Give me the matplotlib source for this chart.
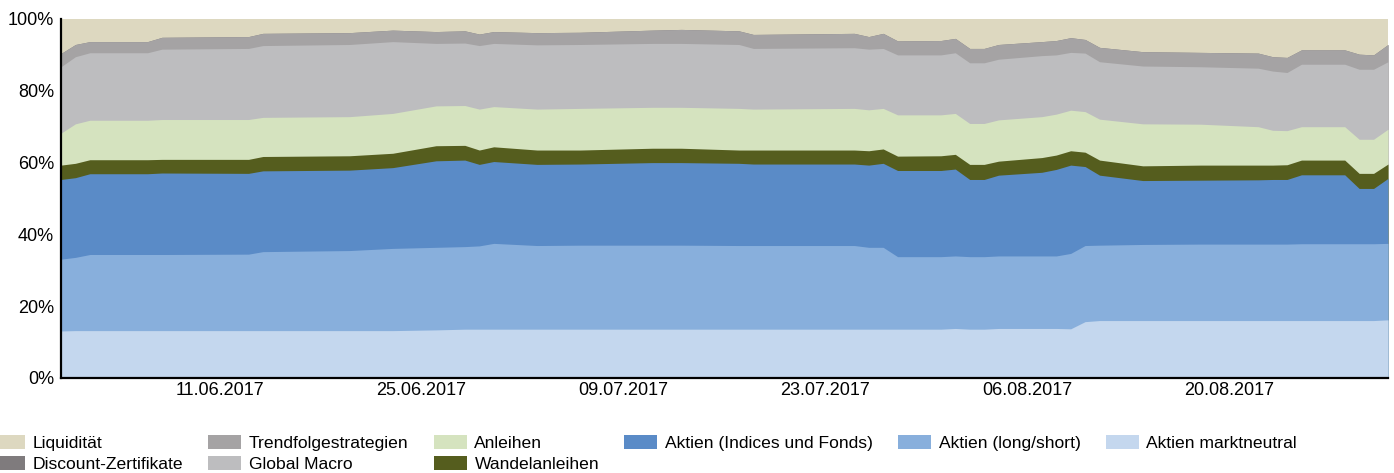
import numpy as np
import pandas as pd
import matplotlib
matplotlib.use('Agg')
import matplotlib.pyplot as plt
from matplotlib.patches import Patch

plt.rcParams['font.family'] = ['Liberation Sans', 'DejaVu Sans']

dates = ['2017-05-31', '2017-06-01', '2017-06-02', '2017-06-06', '2017-06-07', '2017-06-13',
         '2017-06-14', '2017-06-20', '2017-06-23', '2017-06-26', '2017-06-28', '2017-06-29',
         '2017-06-30', '2017-07-03', '2017-07-06', '2017-07-11', '2017-07-13', '2017-07-17',
         '2017-07-18', '2017-07-25', '2017-07-26', '2017-07-27', '2017-07-28', '2017-07-31',
         '2017-08-01', '2017-08-02', '2017-08-03', '2017-08-04', '2017-08-07', '2017-08-08',
         '2017-08-09', '2017-08-10', '2017-08-11', '2017-08-14', '2017-08-18', '2017-08-22',
         '2017-08-23', '2017-08-24', '2017-08-25', '2017-08-28', '2017-08-29', '2017-08-30',
         '2017-08-31']

# shares in % (bottom -> top of the stack)
aktien_marktneutral = [13.1, 13.2, 13.2, 13.2, 13.2, 13.2, 13.2, 13.2, 13.2, 13.4, 13.6, 13.6, 13.6, 13.6, 13.6,
                       13.6, 13.6, 13.6, 13.6, 13.6, 13.6, 13.6, 13.6, 13.6, 13.8, 13.6, 13.6, 13.8, 13.8, 13.8,
                       13.7, 15.7, 16.0, 16.0, 16.0, 16.0, 16.0, 16.0, 16.0, 16.0, 16.0, 16.0, 16.2]
aktien_long_short = [20.0, 20.4, 21.2, 21.2, 21.2, 21.3, 22.0, 22.3, 22.9, 23.0, 23.0, 23.2, 23.9, 23.3, 23.4,
                     23.4, 23.4, 23.3, 23.3, 23.3, 22.8, 22.8, 20.2, 20.2, 20.2, 20.2, 20.2, 20.2, 20.2, 20.2,
                     21.0, 21.2, 21.0, 21.2, 21.3, 21.3, 21.3, 21.3, 21.4, 21.4, 21.4, 21.4, 21.3]
aktien_indices = [22.2, 22.2, 22.5, 22.5, 22.7, 22.5, 22.5, 22.4, 22.5, 24.1, 24.1, 22.7, 22.8, 22.6, 22.6,
                  23.0, 23.0, 22.9, 22.7, 22.7, 22.9, 23.4, 24.0, 24.0, 24.2, 21.5, 21.5, 22.5, 23.3, 24.1,
                  24.6, 22.0, 19.5, 17.8, 17.8, 17.9, 18.0, 18.0, 19.2, 19.2, 15.4, 15.4, 18.1]
wandelanleihen = [4.0, 4.0, 3.9, 3.9, 3.8, 3.9, 4.0, 4.0, 4.0, 4.2, 4.1, 4.0, 4.1, 4.0, 3.9,
                  4.0, 4.0, 3.7, 3.9, 3.9, 4.0, 4.0, 4.0, 4.1, 4.1, 4.2, 4.2, 3.9, 4.1, 4.0,
                  4.0, 4.0, 4.2, 4.1, 4.2, 4.1, 4.0, 4.1, 4.1, 4.1, 4.2, 4.2, 4.0]
anleihen = [8.9, 11.0, 11.0, 11.0, 11.1, 11.1, 10.9, 10.9, 11.1, 11.1, 11.1, 11.4, 11.2, 11.4, 11.6,
            11.4, 11.4, 11.6, 11.4, 11.6, 11.4, 11.3, 11.5, 11.4, 11.4, 11.4, 11.4, 11.5, 11.4, 11.4,
            11.3, 11.3, 11.4, 11.7, 11.4, 10.7, 9.7, 9.5, 9.3, 9.3, 9.5, 9.5, 9.7]
global_macro = [18.5, 18.7, 18.8, 18.8, 19.6, 19.8, 20.0, 20.1, 20.0, 17.4, 17.4, 17.7, 17.6, 17.9, 17.8,
                17.8, 17.8, 17.8, 16.9, 16.9, 16.9, 16.7, 16.7, 16.7, 16.9, 16.9, 16.9, 16.9, 17.0, 16.5,
                16.1, 16.3, 16.0, 16.1, 16.0, 16.3, 16.5, 16.2, 17.4, 17.4, 19.5, 19.5, 18.8]
trendfolge = [3.7, 3.4, 3.1, 3.1, 3.3, 3.3, 3.4, 3.3, 3.2, 3.3, 3.4, 3.2, 3.3, 3.4, 3.4,
              3.7, 3.9, 3.8, 3.9, 4.0, 3.5, 4.2, 3.9, 4.0, 4.0, 4.0, 4.0, 4.1, 3.9, 4.0,
              4.1, 3.8, 4.0, 4.0, 4.0, 4.2, 4.0, 4.2, 4.0, 4.0, 4.2, 4.0, 4.8]
discount_zertifikate = [0.0] * 43
liquiditaet = [9.6, 7.1, 6.3, 6.3, 5.1, 4.9, 4.0, 3.8, 3.1, 3.5, 3.3, 4.2, 3.5, 3.8, 3.7,
               3.1, 2.9, 3.3, 4.3, 4.0, 4.9, 4.0, 6.1, 6.0, 5.4, 8.2, 8.2, 7.1, 6.3, 6.0,
               5.2, 5.7, 7.9, 9.1, 9.3, 9.5, 10.5, 10.7, 8.6, 8.6, 9.8, 10.0, 7.1]

labels = ['Aktien marktneutral', 'Aktien (long/short)', 'Aktien (Indices und Fonds)', 'Wandelanleihen',
          'Anleihen', 'Global Macro', 'Trendfolgestrategien', 'Discount-Zertifikate', 'Liquidität']
colors = ['#c4d7ee', '#88afdc', '#5a8bc7', '#555d1e', '#d5e3bf', '#bdbdbf', '#a5a3a4', '#7f7b7d', '#ddd8c0']

tick_dates = ['2017-06-11', '2017-06-25', '2017-07-09', '2017-07-23', '2017-08-06', '2017-08-20']

x = pd.to_datetime(dates)
series = np.array([aktien_marktneutral, aktien_long_short, aktien_indices, wandelanleihen, anleihen,
                   global_macro, trendfolge, discount_zertifikate, liquiditaet])
series = series / series.sum(axis=0) * 100
tops = np.cumsum(series, axis=0)

fig = plt.figure(figsize=(13.94, 4.73), dpi=100)
ax = fig.add_axes([61 / 1394, 1 - 378 / 473, (1388 - 61) / 1394, (378 - 19) / 473])

# draw top layer first, each filled down to 0, so no seams between layers
for i in range(len(labels) - 1, -1, -1):
    ax.fill_between(x, 0, tops[i], color=colors[i], linewidth=0)

ax.set_xlim(x[0], x[-1])
ax.set_ylim(0, 100)
ax.set_yticks(range(0, 101, 20))
ax.set_yticklabels([f'{v}%' for v in range(0, 101, 20)])
tx = pd.to_datetime(tick_dates)
ax.set_xticks(tx)
ax.set_xticklabels([d.strftime('%d.%m.%Y') for d in tx])
ax.tick_params(length=0, labelsize=13, colors='black')
ax.tick_params(axis='y', pad=5)
ax.tick_params(axis='x', pad=3)
for s in ['top', 'right']:
    ax.spines[s].set_visible(False)
for s in ['left', 'bottom']:
    ax.spines[s].set_linewidth(1.6)
    ax.spines[s].set_color('black')

handles = [Patch(facecolor=colors[i], edgecolor='none', label=labels[i]) for i in range(len(labels) - 1, -1, -1)]
fig.legend(handles=handles, loc='upper left', bbox_to_anchor=(-8 / 1394, 1 - 435 / 473), ncol=6,
           frameon=False, fontsize=12.6, borderpad=0, borderaxespad=0, handlelength=1.89,
           handleheight=0.82, handletextpad=0.43, columnspacing=1.44, labelspacing=0.3)

fig.savefig('out.png', dpi=100)
